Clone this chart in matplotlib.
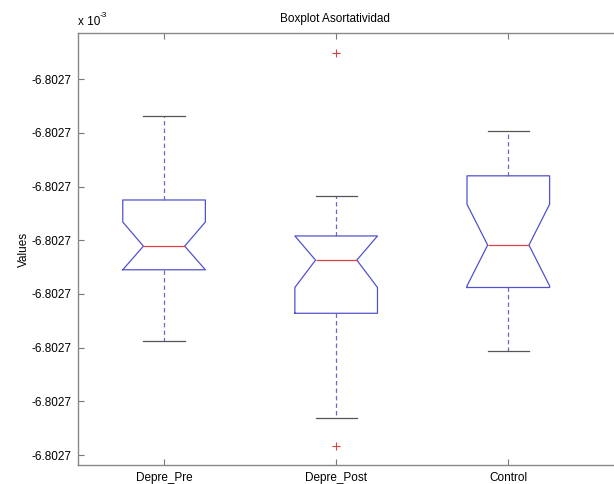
import numpy as np
import matplotlib
matplotlib.use("Agg")
from matplotlib import pyplot as plt

plt.rcParams['font.family'] = ['Liberation Sans', 'DejaVu Sans']

# valores en unidades de la escala (todas las marcas leen -6.8027 x 10^-3)
grupos = ['Depre_Pre', 'Depre_Post', 'Control']
medianas = [3.89, 3.63, 3.91]
q1 = [3.45, 2.64, 3.12]
q3 = [4.75, 4.08, 5.20]
bigote_bajo = [2.13, 0.69, 1.94]
bigote_alto = [6.32, 4.83, 6.03]
notch_bajo = [3.45, 3.12, 3.15]
notch_alto = [4.34, 4.08, 4.67]
atipicos = [[], [7.49, 0.17], []]
yticks = [0, 1, 2, 3, 4, 5, 6, 7]
ytick_labels = ['-6.8027'] * len(yticks)

stats = []
for i in range(len(grupos)):
    stats.append(dict(med=medianas[i], q1=q1[i], q3=q3[i],
                      whislo=bigote_bajo[i], whishi=bigote_alto[i],
                      cilo=notch_bajo[i], cihi=notch_alto[i],
                      fliers=atipicos[i], label=grupos[i]))

fig = plt.figure(figsize=(6.14, 4.84), dpi=100)
ax = fig.add_axes([78/614, 19/484, 552/614, 432/484])

ax.bxp(stats, positions=[1, 2, 3], widths=0.48, shownotches=True,
       boxprops=dict(color='#5252cc', linewidth=0.9),
       medianprops=dict(color='#dd4040', linewidth=0.9),
       whiskerprops=dict(color='#6a6ab8', linewidth=0.9, linestyle=(0, (3.5, 2.5))),
       capprops=dict(color='#555555', linewidth=0.9),
       flierprops=dict(marker='+', markeredgecolor='#dd4040', markersize=6,
                       markeredgewidth=0.8, linestyle='none'))

ax.set_xlim(0.5, 3.707)
ax.set_ylim(-0.186, 7.86)
ax.set_yticks(yticks)
ax.set_yticklabels(ytick_labels)
ax.set_xticks([1, 2, 3])
ax.set_xticklabels(grupos)
ax.tick_params(direction='in', length=4, width=0.8, color='#777777',
               labelsize=8.5, top=True, right=True, pad=5)
for s in ax.spines.values():
    s.set_color('#888888')
    s.set_linewidth(1.0)

ax.set_title('Boxplot Asortatividad', fontsize=8.5, pad=8, x=(335-78)/552)
ax.set_ylabel('Values', fontsize=8.5, labelpad=1)
ax.text(0, 1.012, 'x 10', transform=ax.transAxes, fontsize=8.5,
        ha='left', va='bottom')
ax.text(0.039, 1.032, '-3', transform=ax.transAxes, fontsize=6,
        ha='left', va='bottom')

fig.savefig('out.png', dpi=100)
